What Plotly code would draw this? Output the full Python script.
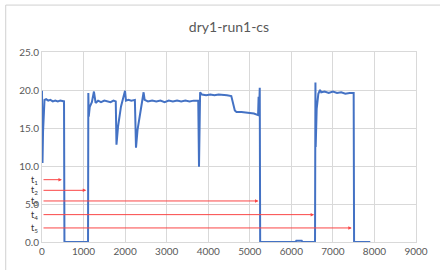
import plotly.graph_objects as go

# Blue series (time, value)
time_s = [0, 12, 25, 40, 60, 100, 150, 200, 260, 320, 380, 440, 500, 530, 540,
          1100, 1108, 1115, 1125, 1150, 1200, 1250, 1290, 1350, 1420, 1500, 1580, 1650, 1720, 1775,
          1792, 1830, 1900, 1960, 1998, 2020, 2080, 2150, 2235,
          2262, 2300, 2380, 2445, 2470, 2550, 2650, 2750, 2850, 2950, 3050, 3150, 3250, 3350,
          3450, 3550, 3650, 3760, 3778, 3792, 3805, 3850, 3950, 4050, 4150, 4250, 4350, 4450,
          4555, 4600, 4640, 4680, 4800, 4950, 5100, 5200, 5212, 5222, 5240, 5250,
          6100, 6120, 6250, 6270, 6570, 6580, 6586, 6610, 6650, 6690, 6720, 6800, 6900, 7000,
          7100, 7200, 7300, 7400, 7500, 7510, 7900]
value = [19.9, 10.4, 14.5, 17.5, 18.7, 18.8, 18.6, 18.7, 18.5, 18.6, 18.5, 18.6, 18.5, 18.5, 0,
         0, 0, 19.6, 16.5, 17.8, 18.4, 19.8, 18.3, 18.6, 18.4, 18.6, 18.5, 18.4, 18.6, 18.5,
         12.8, 15.2, 17.8, 19.0, 19.9, 18.6, 18.7, 18.6, 18.7,
         12.4, 14.8, 17.5, 19.7, 18.7, 18.5, 18.6, 18.5, 18.6, 18.4, 18.6, 18.5, 18.6, 18.5,
         18.6, 18.5, 18.6, 18.6, 9.9, 19.5, 19.7, 19.4, 19.3, 19.4, 19.3, 19.4, 19.3, 19.3,
         19.2, 18.0, 17.3, 17.1, 17.1, 17.0, 16.9, 16.7, 19.1, 16.8, 20.3, 0,
         0, 0.15, 0.15, 0, 0, 21.0, 12.5, 17.5, 19.5, 20.0, 19.7, 19.8, 19.6, 19.8,
         19.6, 19.7, 19.5, 19.6, 19.6, 0, 0]

# Red marker arrows: labels, heights and where they end
t_labels = ["t<sub>1</sub>", "t<sub>2</sub>", "t<sub>3</sub>", "t<sub>4</sub>", "t<sub>5</sub>"]
t_level = [8.2, 6.8, 5.4, 3.6, 1.85]
t_end = [480, 1065, 5210, 6548, 7456]

x_ticks = [0, 1000, 2000, 3000, 4000, 5000, 6000, 7000, 8000, 9000]
y_ticks = [0, 5, 10, 15, 20, 25]

grid = "#D9D9D9"
txt = "#595959"
font = "Lato, Open Sans, sans-serif"

fig = go.Figure()
fig.add_trace(go.Scatter(x=time_s, y=value, mode="lines",
                         line=dict(color="#4472C4", width=2), showlegend=False))

for lab, lv, end in zip(t_labels, t_level, t_end):
    fig.add_annotation(x=end, y=lv, ax=0, ay=lv, xref="x", yref="y", axref="x", ayref="y",
                       text="", showarrow=True, arrowhead=2, arrowsize=0.7, arrowwidth=1,
                       arrowcolor="rgb(250,70,70)")
    fig.add_annotation(x=-0.005, y=lv, xref="paper", yref="y", text=lab, showarrow=False,
                       xanchor="right", yanchor="middle",
                       font=dict(size=9, color="#333333", family=font))

fig.add_shape(type="rect", xref="paper", yref="paper", x0=-0.097, x1=1.3, y0=-0.6, y1=1.247,
              line=dict(color="#D0D0D0", width=1), fillcolor="rgba(0,0,0,0)", layer="below")

fig.update_layout(
    width=440, height=270,
    margin=dict(l=42, r=17, t=52, b=28),
    paper_bgcolor="white", plot_bgcolor="white",
    title=dict(text="dry1-run1-cs", x=0.5, xref="paper", y=1 - 27 / 270, yanchor="middle",
               xanchor="center", font=dict(size=14, color=txt, family=font)),
    font=dict(family=font, color=txt, size=10),
)
fig.update_xaxes(range=[0, 9000], tickvals=x_ticks, ticktext=[str(v) for v in x_ticks],
                 showgrid=True, gridcolor=grid, gridwidth=1, zeroline=False,
                 showline=True, linecolor=grid, mirror=True, ticks="",
                 tickfont=dict(size=10, color=txt, family=font))
fig.update_yaxes(range=[0, 25], tickvals=y_ticks, ticktext=[f"{v:.1f}" for v in y_ticks],
                 showgrid=True, gridcolor=grid, gridwidth=1, zeroline=False,
                 showline=True, linecolor=grid, mirror=True, ticks="",
                 tickfont=dict(size=10, color=txt, family=font))

fig.write_html("out.html", config={"displayModeBar": False},
               post_script="document.body.style.margin='0';")
